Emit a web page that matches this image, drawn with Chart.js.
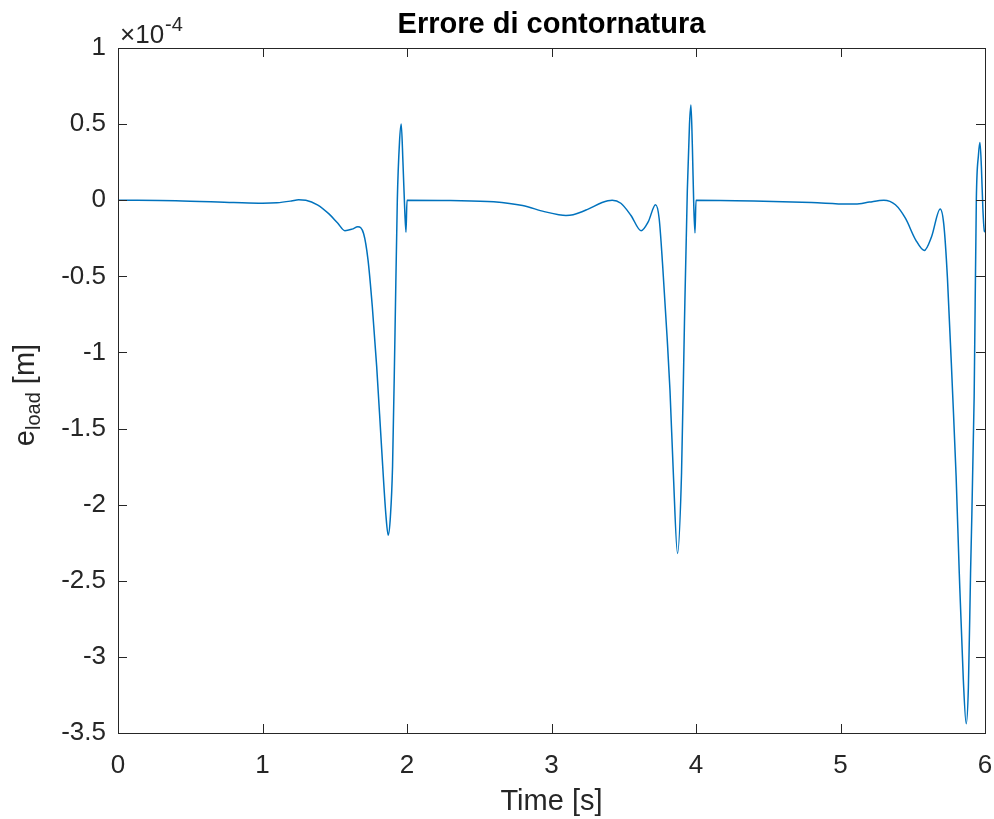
<!DOCTYPE html>
<html>
<head>
<meta charset="utf-8">
<title>Errore di contornatura</title>
<script src="https://cdn.jsdelivr.net/npm/chart.js@4/dist/chart.umd.min.js"></script>
<style>
  html, body { margin: 0; padding: 0; background: #fff; }
  canvas { display: block; }
</style>
</head>
<body>
<canvas id="chart" width="994" height="819"></canvas>
<script>
// time axis [s]
const timeSec = [
  0, 0.4, 0.8, 1.0, 1.1, 1.2, 1.25, 1.3, 1.38, 1.46, 1.52, 1.57, 1.62, 1.66, 1.70, 1.73, 1.76, 1.79,
  1.825, 1.855, 1.87, 1.885, 1.90, 1.917, 1.933, 1.948, 1.96, 1.972, 1.985, 1.993,
  2.0, 2.3, 2.6, 2.8, 2.95, 3.05, 3.1, 3.15, 3.25, 3.35, 3.42, 3.48, 3.55, 3.62, 3.67, 3.72, 3.745,
  3.77, 3.80, 3.82, 3.843, 3.872, 3.90, 3.92, 3.94, 3.955, 3.965, 3.975, 3.985, 3.993,
  4.0, 4.4, 4.8, 5.05, 5.13, 5.2, 5.3, 5.38, 5.45, 5.52, 5.58, 5.63, 5.69, 5.715, 5.74, 5.776,
  5.80, 5.822, 5.85, 5.87, 5.885, 5.90, 5.925, 5.94, 5.955, 5.965, 5.975, 5.985, 5.995, 6.0
]
// contour error e_load, in units of 1e-4 m
const errLoad = [
  0, -0.003, -0.015, -0.02, -0.017, -0.005, 0.003, 0.0, -0.03, -0.09, -0.15, -0.20, -0.19, -0.175, -0.22, -0.39, -0.70, -1.09,
  -1.64, -2.08, -2.20, -2.08, -1.75, -0.87, 0.0, 0.38, 0.50, 0.25, -0.08, -0.21,
  0.0, -0.002, -0.01, -0.035, -0.075, -0.095, -0.10, -0.095, -0.06, -0.015, 0.0, -0.02, -0.10, -0.20, -0.14, -0.03, -0.12,
  -0.44, -0.90, -1.25, -1.79, -2.32, -1.79, -0.81, 0.065, 0.50, 0.625, 0.35, -0.05, -0.215,
  0.0, -0.005, -0.015, -0.025, -0.023, -0.012, 0.0, -0.03, -0.12, -0.26, -0.33, -0.24, -0.057, -0.16, -0.51, -1.27,
  -1.81, -2.45, -3.15, -3.44, -3.20, -2.45, -1.29, 0.0, 0.30, 0.38, 0.22, -0.05, -0.20, -0.21
]

const FONT = '"Liberation Sans", Arial, Helvetica, sans-serif'
const TEXT = '#262626'
const AXIS = '#262626'

// MATLAB-like box with inward ticks on every side, plus titles
const matlabAxes = {
  id: 'matlabAxes',
  afterDraw(chart) {
    const { ctx, chartArea: a, scales: { x, y } } = chart
    ctx.save()
    ctx.strokeStyle = AXIS
    ctx.lineWidth = 1
    ctx.strokeRect(Math.round(a.left) + 0.5, Math.round(a.top) + 0.5, Math.round(a.right - a.left), Math.round(a.bottom - a.top))
    const tl = 9
    ctx.beginPath()
    x.ticks.forEach(t => {
      const px = Math.round(x.getPixelForValue(t.value)) + 0.5
      ctx.moveTo(px, a.bottom); ctx.lineTo(px, a.bottom - tl)
      ctx.moveTo(px, a.top); ctx.lineTo(px, a.top + tl)
    })
    y.ticks.forEach(t => {
      const py = Math.round(y.getPixelForValue(t.value)) + 0.5
      ctx.moveTo(a.left, py); ctx.lineTo(a.left + tl, py)
      ctx.moveTo(a.right, py); ctx.lineTo(a.right - tl, py)
    })
    ctx.stroke()

    const cx = (a.left + a.right) / 2
    // title
    ctx.fillStyle = '#000'
    ctx.font = 'bold 29px ' + FONT
    ctx.textAlign = 'center'
    ctx.textBaseline = 'alphabetic'
    ctx.fillText('Errore di contornatura', cx, 33)

    // x title
    ctx.fillStyle = TEXT
    ctx.font = '29px ' + FONT
    ctx.fillText('Time [s]', cx, 810)

    // y title with subscript
    ctx.save()
    ctx.translate(34, 395)
    ctx.rotate(-Math.PI / 2)
    ctx.textAlign = 'left'
    const parts = [['e', '29px ', 0], ['load', '20px ', 6], [' [m]', '29px ', 0]]
    let w = 0
    parts.forEach(p => { ctx.font = p[1] + FONT; w += ctx.measureText(p[0]).width })
    let pos = -w / 2
    parts.forEach(p => {
      ctx.font = p[1] + FONT
      ctx.fillText(p[0], pos, p[2])
      pos += ctx.measureText(p[0]).width
    })
    ctx.restore()

    // exponent label
    ctx.textAlign = 'left'
    ctx.font = '26px ' + FONT
    ctx.fillText('\u00d710', a.left + 2, 43)
    const ew = ctx.measureText('\u00d710').width
    ctx.font = '20px ' + FONT
    ctx.fillText('-4', a.left + 3 + ew, 31)
    ctx.restore()
  }
}

new Chart(document.getElementById('chart'), {
  type: 'line',
  data: {
    datasets: [{
      data: timeSec.map((t, i) => ({ x: t, y: errLoad[i] })),
      borderColor: '#0072BD',
      borderWidth: 1.5,
      pointRadius: 0,
      cubicInterpolationMode: 'monotone',
      fill: false
    }]
  },
  options: {
    responsive: false,
    animation: false,
    layout: { padding: { top: 48, right: 9, left: 0, bottom: 0 } },
    plugins: { legend: { display: false }, tooltip: { enabled: false }, title: { display: false } },
    scales: {
      x: {
        type: 'linear', min: 0, max: 6,
        grid: { display: false, drawTicks: false },
        border: { display: false },
        ticks: { stepSize: 1, color: TEXT, font: { family: FONT, size: 26 }, padding: 17, maxRotation: 0 },
        afterFit: s => { s.height = 86; s.paddingLeft = 0; s.paddingRight = 0 }
      },
      y: {
        type: 'linear', min: -3.5, max: 1,
        grid: { display: false, drawTicks: false },
        border: { display: false },
        ticks: { stepSize: 0.5, color: TEXT, font: { family: FONT, size: 26 }, padding: 12,
          callback: v => String(Math.round(v * 10) / 10) },
        afterFit: s => { s.width = 118; s.paddingTop = 0; s.paddingBottom = 0 }
      }
    }
  },
  plugins: [matlabAxes]
})
</script>
</body>
</html>
